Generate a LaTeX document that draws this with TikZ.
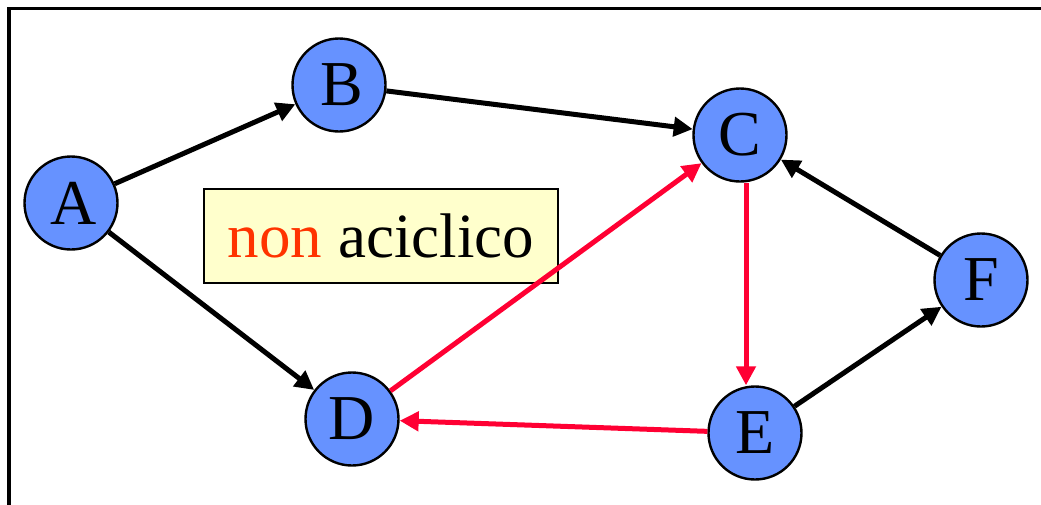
\documentclass[tikz,border=0pt]{standalone}
\usepackage{fontspec}
\setmainfont{Liberation Serif}
\usetikzlibrary{arrows.meta}
\definecolor{nodeblue}{RGB}{102,146,255}
\definecolor{edgered}{RGB}{255,0,51}
\definecolor{boxyellow}{RGB}{255,255,204}
\definecolor{nonred}{RGB}{255,51,0}
\tikzset{
  vertex/.style={circle, draw=black, line width=2.4pt, fill=nodeblue, minimum size=93pt, inner sep=0pt,
    font=\fontsize{64}{64}\selectfont},
  edge/.style={line width=5pt, draw=black, -{Triangle[length=19pt,width=19pt]}},
  redge/.style={edge, draw=edgered, color=edgered},
  notebox/.style={rectangle, draw=black, line width=2.2pt, fill=boxyellow, minimum width=354pt, minimum height=94pt,
    inner sep=0pt, font=\fontsize{63}{63}\selectfont}
}
\begin{document}
\begin{tikzpicture}[x=1pt,y=-1pt]
\useasboundingbox (0,0) rectangle (1041,504);
\fill[white] (0,0) rectangle (1041,504);
\draw[line width=3.2pt] (9,506) -- (9,8.5) -- (1043,8.5);
\node[vertex] (A) at (71,203) {\hspace{6pt}A};
\node[vertex] (B) at (339,85) {\hspace{5pt}B};
\node[vertex] (C) at (740,135) {C};
\node[vertex] (D) at (352,419) {D};
\node[vertex] (E) at (755,433) {E};
\node[vertex] (F) at (981,280) {F};
\node[notebox] (N) at (381,236) {\textcolor{nonred}{non} aciclico};
\draw[edge] (A) -- (B);
\draw[edge] (B) -- (C);
\draw[edge] (A) -- (D);
\draw[redge] (D) -- (C);
\draw[redge] ([xshift=6pt]C.south) -- ([xshift=-9pt]E.north);
\draw[redge] (E) -- (D);
\draw[edge] (E) -- (F);
\draw[edge] (F) -- (C);
\end{tikzpicture}
\end{document}
